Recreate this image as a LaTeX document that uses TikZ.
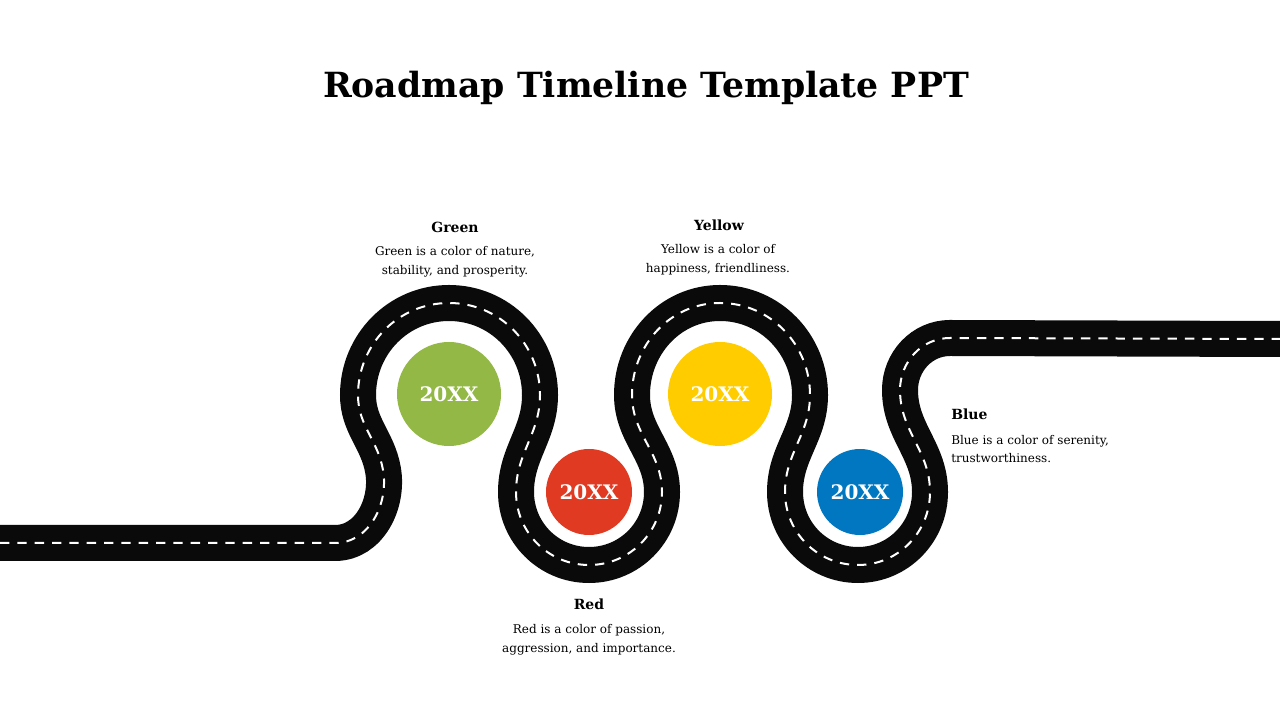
\documentclass[tikz,border=0pt]{standalone}
\usepackage{fontspec}
\setmainfont{DejaVu Serif}
\definecolor{cgreen}{HTML}{93B846}
\definecolor{cred}{HTML}{E03A22}
\definecolor{cyellow}{HTML}{FFCC00}
\definecolor{cblue}{HTML}{0077C0}
\definecolor{road}{HTML}{0A0A0A}
\begin{document}
\begin{tikzpicture}[x=0.75pt,y=0.75pt,
  yearc/.style={circle,inner sep=0pt,text=white,font=\bfseries\fontsize{15}{18}\selectfont},
  head/.style={font=\bfseries\fontsize{10.5}{13}\selectfont},
  body/.style={font=\fontsize{9}{14}\selectfont,align=center,inner sep=0pt}]
\useasboundingbox (0,0) rectangle (1280,720);
\def\roadpath{(0,177) -- (335,177) to[out=0,in=-80] (383,250) to[out=100,in=-90] (358,325)
 to[out=90,in=180] (449,417) to[out=0,in=90] (540,325) to[out=-90,in=90] (516,228)
 to[out=-90,in=180] (589,155) to[out=0,in=-90] (662,228) to[out=90,in=-90] (632,325)
 to[out=90,in=180] (720,417) to[out=0,in=90] (810,325) to[out=-90,in=90] (785,228)
 to[out=-90,in=180] (858,155) to[out=0,in=-90] (930,228) to[out=90,in=-90] (900,330)
 to[out=90,in=180] (950,382) -- (1280,381)}
\draw[road,line width=27pt] \roadpath;
\draw[white,line width=1.5pt,dash pattern=on 7pt off 6pt] \roadpath;
\node[yearc,fill=cgreen,minimum size=78pt] (g) at (449,326) {20XX};
\node[yearc,fill=cred,minimum size=64.5pt] (r) at (589,228) {20XX};
\node[yearc,fill=cyellow,minimum size=78pt] (y) at (720,326) {20XX};
\node[yearc,fill=cblue,minimum size=64.5pt] (b) at (860,228) {20XX};
\node[font=\bfseries\fontsize{26}{30}\selectfont] (t) at (646,632) {Roadmap Timeline Template PPT};
\node[head] (gh) at (455,493) {Green};
\node[body] (gb) at (455,458) {Green is a color of nature,\\stability, and prosperity.};
\node[head] (yh) at (719,495) {Yellow};
\node[body] (yb) at (718,460) {Yellow is a color of\\happiness, friendliness.};
\node[head] (rh) at (589,116) {Red};
\node[body] (rb) at (589,80) {Red is a color of passion,\\aggression, and importance.};
\node[head,anchor=west,inner sep=0pt] (bh) at (951,306) {Blue};
\node[body,align=left,anchor=west] (bb) at (951,271) {Blue is a color of serenity,\\trustworthiness.};
\end{tikzpicture}
\end{document}
